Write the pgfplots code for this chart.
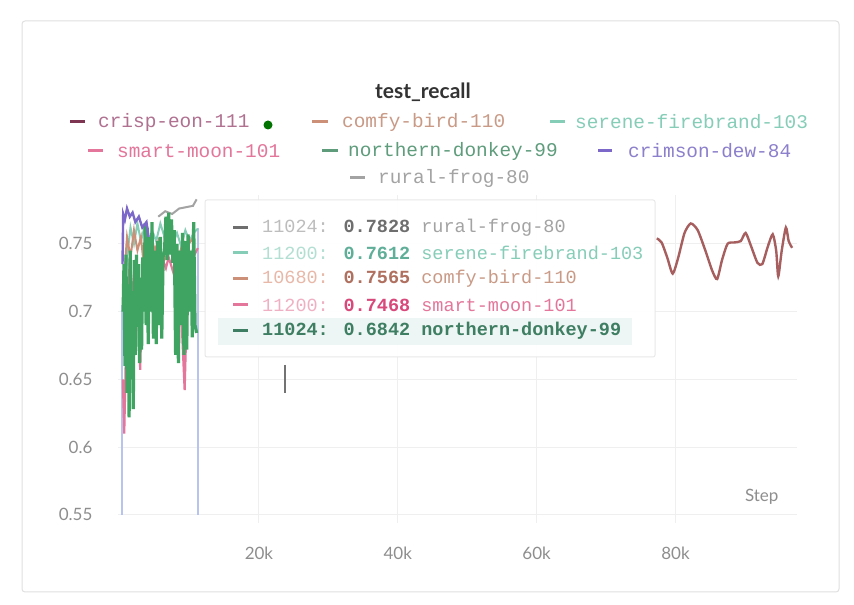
\documentclass[border=0pt]{standalone}
\usepackage{pgfplots}
\pgfplotsset{compat=1.18}
\usepackage{fontspec}
\setmainfont{Lato}
\newfontfamily\mono{Liberation Mono}
\definecolor{crispL}{HTML}{A65E5E}
\definecolor{crispD}{HTML}{7E3552}
\definecolor{crispT}{HTML}{B07090}
\definecolor{comfy}{HTML}{CC8F78}
\definecolor{comfyT}{HTML}{C99A86}
\definecolor{comfyS}{HTML}{E8B8A8}
\definecolor{comfyV}{HTML}{B07060}
\definecolor{serene}{HTML}{86CDB8}
\definecolor{sereneS}{HTML}{B2DFD2}
\definecolor{sereneV}{HTML}{5FAE98}
\definecolor{smart}{HTML}{E3769A}
\definecolor{smartS}{HTML}{F0B0C4}
\definecolor{smartV}{HTML}{D8487A}
\definecolor{north}{HTML}{3FA462}
\definecolor{northT}{HTML}{5E9C7C}
\definecolor{northV}{HTML}{3E7E62}
\definecolor{crimson}{HTML}{7B68C8}
\definecolor{crimsonT}{HTML}{8C7FCC}
\definecolor{rural}{HTML}{A3A3A3}
\definecolor{ruralS}{HTML}{BDBDBD}
\definecolor{ruralV}{HTML}{6E6E6E}
\definecolor{lav}{HTML}{B9C4EE}
\definecolor{gridc}{HTML}{EFEFEF}
\definecolor{tickc}{HTML}{8E8E8E}
\definecolor{hl}{HTML}{EEF6F5}
\begin{document}
\begin{tikzpicture}
\path[fill=white] (0,0) rectangle (854pt,605pt);
\draw[color=black!12, line width=1pt, rounded corners=3pt] (22pt,13pt) rectangle (839pt,584pt);
\begin{axis}[
  at={(118pt,82pt)}, anchor=south west, scale only axis,
  width=679pt, height=328pt,
  xmin=-300, xmax=97500, ymin=0.544, ymax=0.786,
  axis line style={draw=none},
  major tick length=0pt,
  xtick={20000,40000,60000,80000},
  xticklabels={20k,40k,60k,80k},
  ytick={0.55,0.6,0.65,0.7,0.75},
  yticklabels={0.55,0.6,0.65,0.7,0.75},
  grid=major, major grid style={gridc, line width=1pt},
  tick label style={font=\fontsize{17}{20}\selectfont, text=tickc},
  xticklabel style={anchor=center, yshift=-30pt},
  yticklabel style={anchor=east, xshift=-22pt},
  scaled x ticks=false,
  clip=true,
]
\node[font=\fontsize{17}{20}\selectfont, text=tickc] at (rel axis cs:0.948,0.079) {Step};
% lavender verticals
\addplot[lav, line width=1.6pt, forget plot] coordinates {(300,0.55) (300,0.705)};
\addplot[lav, line width=1.6pt, forget plot] coordinates {(11200,0.762) (11200,0.55)};
% serene-firebrand-103
\addplot[serene, line width=2pt] coordinates {
(500,0.70) (1000,0.74) (1500,0.762) (2000,0.75) (2500,0.765) (3000,0.752) (3500,0.762)
(4000,0.748) (4600,0.760) (5200,0.752) (5800,0.765) (6400,0.755) (7000,0.762) (7600,0.750)
(8200,0.758) (8800,0.748) (9400,0.760) (10000,0.752) (10600,0.758) (11200,0.7612)};
% comfy-bird-110
\addplot[comfy, line width=2pt] coordinates {
(500,0.72) (1000,0.755) (1500,0.74) (2000,0.76) (2500,0.745) (3000,0.755) (3500,0.73)
(4000,0.748) (4500,0.755) (5000,0.745) (5500,0.752) (6000,0.735) (6600,0.74) (7200,0.75)
(7800,0.745) (8400,0.74) (9000,0.75) (9600,0.748) (10200,0.752) (10680,0.7565)};
% smart-moon-101
\addplot[smart, line width=2.2pt] coordinates {
(400,0.65) (600,0.61) (800,0.66) (1100,0.70) (1400,0.74) (1700,0.72) (2000,0.70)
(2400,0.735) (2700,0.686) (2900,0.657) (3100,0.70) (3500,0.73) (4000,0.745) (4500,0.735)
(5000,0.72) (5500,0.745) (6000,0.74) (6600,0.732) (7000,0.74) (7600,0.73) (8200,0.72)
(8800,0.70) (9300,0.642) (9600,0.70) (10000,0.735) (10500,0.74) (11200,0.7468)};
% rural-frog-80
\addplot[rural, line width=2pt] coordinates {
(5500,0.770) (6500,0.774) (7500,0.772) (8500,0.776) (9500,0.777) (10500,0.778) (11024,0.7828)};
% northern-donkey-99
\addplot[north, line width=3.2pt] coordinates {
(432,0.700) (560,0.735) (700,0.660) (850,0.742) (1000,0.640) (1150,0.720) (1300,0.622)
(1450,0.745) (1600,0.650) (1750,0.700) (1900,0.628) (2050,0.738) (2200,0.668) (2350,0.742)
(2500,0.690) (2650,0.735) (2800,0.662) (2950,0.725) (3100,0.672) (3250,0.740) (3450,0.700)
(3600,0.765) (3750,0.690) (3900,0.762) (4050,0.676) (4200,0.755) (4400,0.700) (4600,0.766)
(4800,0.680) (5000,0.745) (5200,0.676) (5400,0.752) (5600,0.690) (5800,0.755) (6000,0.680)
(6200,0.740) (6400,0.745) (6600,0.770) (6800,0.738) (7000,0.773) (7200,0.742) (7400,0.768)
(7600,0.736) (7800,0.760) (8000,0.668) (8200,0.750) (8400,0.662) (8600,0.745) (8800,0.690)
(9000,0.758) (9200,0.668) (9400,0.752) (9600,0.672) (9800,0.757) (10000,0.700) (10200,0.745)
(10400,0.681) (10600,0.766) (10800,0.690) (11024,0.6842)};
% crimson-dew-84
\addplot[crimson, line width=2.4pt] coordinates {
(350,0.735) (450,0.772) (700,0.768) (1000,0.776) (1400,0.770) (1800,0.773) (2200,0.766)
(2700,0.770) (3200,0.762) (3800,0.766) (4100,0.755)};
% crisp-eon-111
\addplot[crispL, line width=2.4pt, smooth, tension=0.4] coordinates {
(77300,0.754) (78000,0.751) (78800,0.740) (79600,0.728) (80400,0.740) (81300,0.758)
(82200,0.765) (83200,0.760) (84300,0.745) (85300,0.730) (86000,0.724) (86700,0.738)
(87500,0.750) (88500,0.751) (89400,0.752) (90100,0.758) (90900,0.748) (91800,0.736)
(92500,0.735) (93300,0.748) (94000,0.757) (94500,0.745) (94800,0.726) (95300,0.745)
(95900,0.762) (96300,0.752) (96800,0.747)};
\end{axis}
% title
\node[font=\bfseries\fontsize{21}{24}\selectfont, text=black!80] at (423pt,513pt) {test\_recall};
% legend
\tikzset{ld/.style={line width=3pt}, lt/.style={anchor=west, inner sep=0pt, font=\mono\fontsize{19.4}{22}\selectfont}}
\draw[ld, crispD] (70pt,483pt) -- (85pt,483pt);
\node[lt, text=crispT] at (98pt,483pt) {crisp-eon-111};
\fill[green!45!black] (268pt,480pt) circle (4.5pt);
\draw[ld, comfy] (312pt,483pt) -- (328pt,483pt);
\node[lt, text=comfyT] at (342pt,483pt) {comfy-bird-110};
\draw[ld, serene] (550pt,483pt) -- (565pt,483pt);
\node[lt, text=serene] at (575pt,483pt) {serene-firebrand-103};
\draw[ld, smart] (88pt,454pt) -- (103pt,454pt);
\node[lt, text=smart] at (117pt,454pt) {smart-moon-101};
\draw[ld, northT] (322pt,454pt) -- (338pt,454pt);
\node[lt, text=northT] at (348pt,454pt) {northern-donkey-99};
\draw[ld, crimson] (598pt,454pt) -- (612pt,454pt);
\node[lt, text=crimsonT] at (628pt,454pt) {crimson-dew-84};
\draw[ld, rural] (350pt,427pt) -- (365pt,427pt);
\node[lt, text=rural] at (378pt,427pt) {rural-frog-80};
% tooltip
\draw[fill=white, fill opacity=0.96, draw=black!9, line width=1pt, rounded corners=2pt] (205pt,405pt) rectangle (655pt,248pt);
\fill[hl] (218pt,287pt) rectangle (632pt,260pt);
\tikzset{tt/.style={anchor=west, inner sep=0pt, font=\mono\fontsize{18.5}{21}\selectfont}}
\draw[ld, ruralV] (233pt,377pt) -- (248pt,377pt);
\node[tt] at (262pt,377pt) {\textcolor{ruralS}{11024:} \textcolor{ruralV}{\bfseries 0.7828} \textcolor{rural}{rural-frog-80}};
\draw[ld, serene] (233pt,352pt) -- (248pt,352pt);
\node[tt] at (262pt,352pt) {\textcolor{sereneS}{11200:} \textcolor{sereneV}{\bfseries 0.7612} \textcolor{serene}{serene-firebrand-103}};
\draw[ld, comfy] (233pt,326pt) -- (248pt,326pt);
\node[tt] at (262pt,326pt) {\textcolor{comfyS}{10680:} \textcolor{comfyV}{\bfseries 0.7565} \textcolor{comfyT}{comfy-bird-110}};
\draw[ld, smart] (233pt,300pt) -- (248pt,300pt);
\node[tt] at (262pt,300pt) {\textcolor{smartS}{11200:} \textcolor{smartV}{\bfseries 0.7468} \textcolor{smart}{smart-moon-101}};
\draw[ld, northV] (233pt,274pt) -- (248pt,274pt);
\node[tt, text=northV] at (262pt,274pt) {\bfseries 11024: 0.6842 northern-donkey-99};
% cursor
\draw[black!55, line width=1.3pt] (285pt,240pt) -- (285pt,212pt);
\end{tikzpicture}
\end{document}
